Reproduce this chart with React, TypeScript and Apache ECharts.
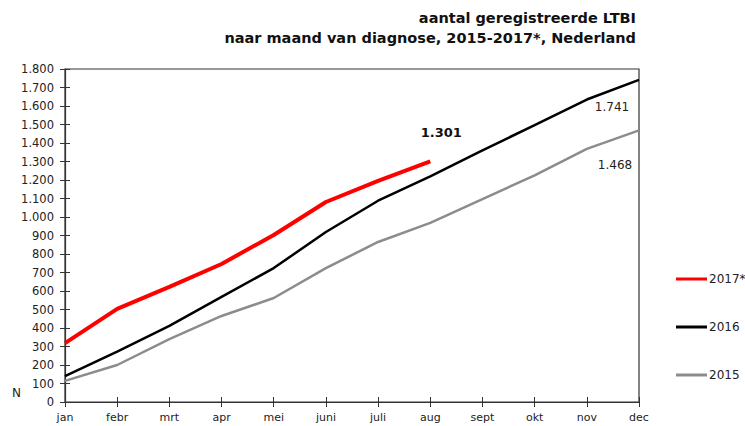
import React, { useEffect, useRef } from "react";
import * as echarts from "echarts";

const months = ["jan", "febr", "mrt", "apr", "mei", "juni", "juli", "aug", "sept", "okt", "nov", "dec"];
const values2017 = [318, 503, 622, 746, 903, 1081, 1195, 1301];
const values2016 = [140, 272, 411, 568, 724, 919, 1088, 1220, 1360, 1497, 1635, 1741];
const values2015 = [114, 200, 340, 465, 562, 724, 865, 968, 1097, 1225, 1368, 1468];
const titleLines = ["aantal geregistreerde LTBI", "naar maand van diagnose, 2015-2017*, Nederland"];

const FONT = "DejaVu Sans";
const fmt = (v: number) => {
  const s = String(v);
  return s.length > 3 ? s.slice(0, s.length - 3) + "." + s.slice(s.length - 3) : s;
};

export default function App() {
  const ref = useRef<HTMLDivElement>(null);
  useEffect(() => {
    if (!ref.current) return;
    const chart = echarts.init(ref.current, null, { renderer: "svg" });
    const axisLine = { show: true, lineStyle: { color: "#333", width: 1.2 } };
    const last = (arr: number[], label: any) =>
      arr.map((v, i) => (i === arr.length - 1 ? { value: v, label: { show: true, ...label } } : v));
    chart.setOption({
      animation: false,
      backgroundColor: "#fff",
      textStyle: { fontFamily: FONT },
      grid: { left: 65, right: 106, top: 69, bottom: 24, show: true, borderColor: "#333", borderWidth: 1.2, backgroundColor: "transparent" },
      legend: {
        orient: "vertical",
        left: 671,
        top: 268,
        itemGap: 36,
        itemWidth: 31,
        itemHeight: 3,
        icon: "rect",
        textStyle: { fontFamily: FONT, fontSize: 12, color: "#222", padding: [0, 0, 0, -3] },
        data: ["2017*", "2016", "2015"],
      },
      xAxis: [
        {
          type: "category",
          data: months,
          boundaryGap: false,
          axisLine,
          axisTick: { show: true, length: 5, lineStyle: { color: "#333" } },
          axisLabel: { fontFamily: FONT, fontSize: 11, color: "#222", margin: 10 },
          splitLine: { show: false },
        },
        {
          type: "category",
          data: months,
          boundaryGap: false,
          position: "bottom",
          axisLine: { show: false },
          axisTick: { show: true, inside: true, length: 5, lineStyle: { color: "#333" } },
          axisLabel: { show: false },
          splitLine: { show: false },
        },
      ],
      yAxis: [
        {
          type: "value",
          min: 0,
          max: 1800,
          interval: 100,
          axisLine,
          axisTick: { show: true, length: 5, lineStyle: { color: "#333" } },
          axisLabel: { fontFamily: FONT, fontSize: 11.5, color: "#222", margin: 11, formatter: fmt },
          splitLine: { show: false },
        },
        {
          type: "value",
          min: 0,
          max: 1800,
          interval: 100,
          position: "left",
          axisLine: { show: false },
          axisTick: { show: true, inside: true, length: 5, lineStyle: { color: "#333" } },
          axisLabel: { show: false },
          splitLine: { show: false },
        },
      ],
      graphic: [
        { type: "text", x: 636, y: 10, style: { text: titleLines[0], font: `bold 14.5px "${FONT}"`, fill: "#111", textAlign: "right" } },
        { type: "text", x: 636, y: 30, style: { text: titleLines[1], font: `bold 14.5px "${FONT}"`, fill: "#111", textAlign: "right" } },
        { type: "text", x: 12, y: 387, style: { text: "N", font: `12px "${FONT}"`, fill: "#222" } },
      ],
      series: [
        {
          name: "2017*",
          type: "line",
          data: last(values2017, { position: "top", offset: [11, -17], fontFamily: FONT, fontSize: 13, fontWeight: "bold", color: "#111", formatter: (p: any) => fmt(p.value) }),
          symbol: "circle",
          symbolSize: 0,
          showSymbol: true,
          lineStyle: { color: "#ff0000", width: 4 },
          itemStyle: { color: "#ff0000" },
          z: 5,
        },
        {
          name: "2016",
          type: "line",
          data: last(values2016, { position: "bottom", offset: [-27, 16], fontFamily: FONT, fontSize: 12, color: "#222", formatter: (p: any) => fmt(p.value) }),
          symbol: "circle",
          symbolSize: 0,
          showSymbol: true,
          lineStyle: { color: "#000", width: 2.5 },
          itemStyle: { color: "#000" },
          z: 4,
        },
        {
          name: "2015",
          type: "line",
          data: last(values2015, { position: "bottom", offset: [-24, 24], fontFamily: FONT, fontSize: 12, color: "#222", formatter: (p: any) => fmt(p.value) }),
          symbol: "circle",
          symbolSize: 0,
          showSymbol: true,
          lineStyle: { color: "#8c8c8c", width: 2.5 },
          itemStyle: { color: "#8c8c8c" },
          z: 3,
        },
      ],
    });
    return () => chart.dispose();
  }, []);
  return <div ref={ref} style={{ width: 745, height: 426, position: "absolute", left: 0, top: 0 }} />;
}
